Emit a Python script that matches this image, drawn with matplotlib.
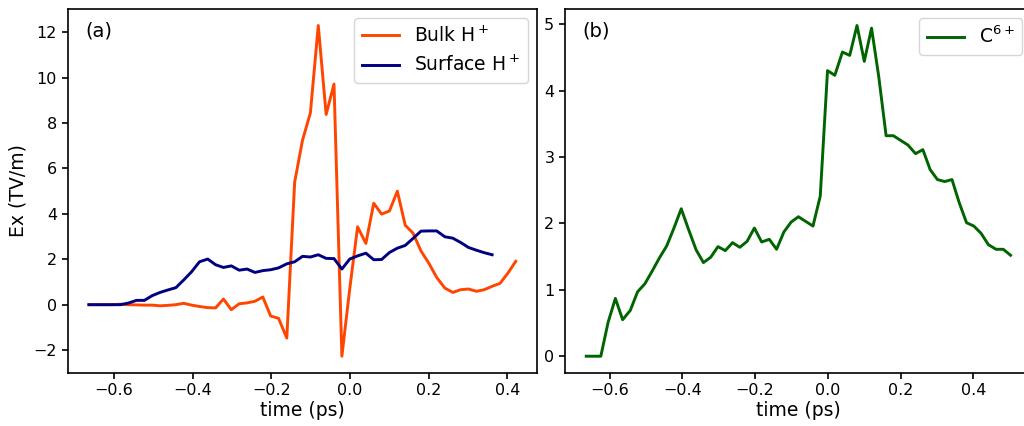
import matplotlib
matplotlib.use("Agg")
import matplotlib.pyplot as plt

# time axis (ps)
time = [-0.664, -0.644, -0.624, -0.604, -0.584, -0.564, -0.543, -0.523, -0.503, -0.483,
        -0.463, -0.443, -0.423, -0.403, -0.383, -0.362, -0.342, -0.322, -0.302, -0.282,
        -0.262, -0.242, -0.222, -0.202, -0.182, -0.161, -0.141, -0.121, -0.101, -0.081,
        -0.061, -0.041, -0.021, -0.001, 0.019, 0.040, 0.060, 0.080, 0.100, 0.120,
        0.140, 0.160, 0.180, 0.200, 0.220, 0.241, 0.261, 0.281, 0.301, 0.321,
        0.341, 0.361, 0.381, 0.401, 0.421, 0.441, 0.462, 0.482, 0.502]

bulk_h = [0, 0, 0, 0, 0.02, 0.0, -0.01, -0.02, -0.02, -0.05,
          -0.03, 0.0, 0.06, -0.02, -0.08, -0.13, -0.14, 0.25, -0.22, 0.04,
          0.08, 0.15, 0.34, -0.5, -0.6, -1.47, 5.4, 7.25, 8.45, 12.3,
          8.38, 9.72, -2.27, 0.7, 3.43, 2.7, 4.47, 3.99, 4.13, 5.0,
          3.5, 3.15, 2.37, 1.83, 1.2, 0.73, 0.54, 0.66, 0.69, 0.59,
          0.66, 0.81, 0.94, 1.39, 1.91]

surface_h = [0, 0, 0, 0, 0.0, 0.07, 0.19, 0.19, 0.4, 0.54,
             0.65, 0.75, 1.09, 1.45, 1.89, 2.01, 1.76, 1.64, 1.71, 1.52,
             1.57, 1.42, 1.5, 1.54, 1.62, 1.8, 1.89, 2.13, 2.1, 2.2,
             2.04, 2.03, 1.57, 2.01, 2.15, 2.27, 1.98, 1.99, 2.3, 2.49,
             2.61, 2.92, 3.24, 3.25, 3.25, 2.99, 2.93, 2.74, 2.52, 2.4,
             2.29, 2.2]

carbon = [0, 0, 0, 0.51, 0.87, 0.55, 0.69, 0.97, 1.09, 1.28,
          1.48, 1.66, 1.93, 2.22, 1.91, 1.6, 1.41, 1.49, 1.65, 1.59,
          1.71, 1.64, 1.73, 1.93, 1.72, 1.76, 1.61, 1.87, 2.02, 2.1,
          2.03, 1.96, 2.41, 4.3, 4.23, 4.58, 4.53, 4.98, 4.44, 4.94,
          4.2, 3.32, 3.32, 3.25, 3.18, 3.05, 3.11, 2.81, 2.66, 2.63,
          2.66, 2.31, 2.01, 1.96, 1.85, 1.68, 1.61, 1.61, 1.52]

plt.rcParams["axes.linewidth"] = 1.2
plt.rcParams["xtick.major.width"] = 1.2
plt.rcParams["ytick.major.width"] = 1.2
plt.rcParams["xtick.major.size"] = 4.2
plt.rcParams["ytick.major.size"] = 4.2
plt.rcParams["xtick.labelsize"] = 11.5
plt.rcParams["ytick.labelsize"] = 11.5

fig = plt.figure(figsize=(10.24, 4.26), dpi=100)
ax1 = fig.add_axes([0.066, 0.125, 0.4585, 0.854])
ax2 = fig.add_axes([0.5518, 0.125, 0.4558, 0.854])

ax1.plot(time[:len(bulk_h)], bulk_h, color="orangered", lw=2.1, label=r"Bulk H$^+$")
ax1.plot(time[:len(surface_h)], surface_h, color="navy", lw=2.1, label=r"Surface H$^+$")
ax1.set_xlabel("time (ps)", fontsize=13.5, labelpad=2)
ax1.set_ylabel("Ex (TV/m)", fontsize=13.5)
ax1.legend(loc="upper right", fontsize=13.5)
ax1.text(0.038, 0.94, "(a)", transform=ax1.transAxes, fontsize=14, va="center")

ax2.plot(time, carbon, color="darkgreen", lw=2.1, label=r"C$^{6+}$")
ax2.set_xlabel("time (ps)", fontsize=13.5, labelpad=2)
ax2.legend(loc="upper right", fontsize=13.5)
ax2.text(0.038, 0.94, "(b)", transform=ax2.transAxes, fontsize=14, va="center")

fig.savefig("out.png", dpi=100)
